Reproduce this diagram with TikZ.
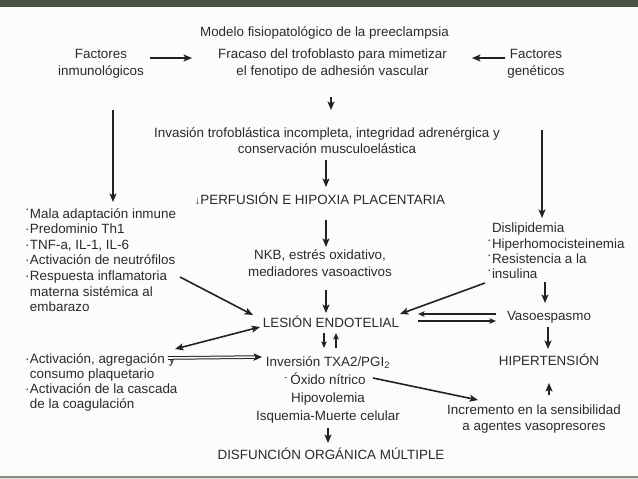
\documentclass[tikz,border=0pt]{standalone}
\usepackage{fontspec}
\usepackage{graphicx}
\setmainfont{Liberation Sans}
\usetikzlibrary{arrows.meta}
\definecolor{txt}{HTML}{2A2A2A}
\definecolor{arrc}{HTML}{222222}
\definecolor{band}{HTML}{4C5343}
\definecolor{paper}{HTML}{FCFCFA}
\definecolor{rule}{HTML}{8A8B80}
\begin{document}
\begin{tikzpicture}[x=1pt,y=-1pt,
  every node/.style={inner sep=0pt, outer sep=0pt, text=txt},
  one/.style={font=\fontsize{13.4}{16}\selectfont, text height=9.5pt, text depth=0pt},
  two/.style={font=\fontsize{13.4}{17}\selectfont, align=center},
  lst/.style={font=\fontsize{13.4}{15.6}\selectfont, align=left, anchor=west},
  arr/.style={draw=arrc, line width=1.6pt, -{Stealth[length=8.5pt,width=7pt,inset=2pt]}},
  dbl/.style={draw=arrc, line width=1.6pt, {Stealth[length=8.5pt,width=7pt,inset=2pt]}-{Stealth[length=8.5pt,width=7pt,inset=2pt]}},
  pair/.style={draw=arrc, line width=1.3pt, -{Stealth[length=6.5pt,width=5.5pt,inset=1.5pt]}},
  dline/.style={draw=arrc, double=paper, double distance=1.6pt, line width=1pt, -{Stealth[length=8.5pt,width=7.5pt,inset=2pt]}},
]
\useasboundingbox (0,0) rectangle (638,479);
\fill[paper] (0,0) rectangle (638,479);
\fill[band] (0,0) rectangle (638,6.5);
\fill[rule] (0,476.3) rectangle (638,478);
\fill[black!12] (0,478) rectangle (638,479);

% nodes
\node[one] (title) at (324.5,32) {Modelo fisiopatológico de la preeclampsia};
\node[two] (fi) at (101,63.5) {Factores\\inmunológicos};
\node[two] (fr) at (332.5,63.5) {Fracaso del trofoblasto para mimetizar\\el fenotipo de adhesión vascular};
\node[two] (fg) at (536,63.5) {Factores\\genéticos};
\node[font=\fontsize{13.4}{16}\selectfont, align=center] (inv) at (327,141) {Invasión trofoblástica incompleta, integridad adrenérgica y\\conservación musculoelástica};
\node[one] (perf) at (320,200) {{\fontsize{11}{11}\selectfont ↓}PERFUSIÓN E HIPOXIA PLACENTARIA};
\node[two] (nkb) at (320,263.5) {NKB, estrés oxidativo,\\mediadores vasoactivos};
\node[one] (les) at (331,323) {LESIÓN ENDOTELIAL};
\node[font=\fontsize{13.4}{18}\selectfont, align=center] (invb) at (328,389.5) {Inversión TXA2/PGI\textsubscript{2}\\\llap{\raisebox{4pt}{\scalebox{0.7}{-}}\hspace{3pt}}Óxido nítrico\\Hipovolemia\\Isquemia-Muerte celular};
\node[one] (disf) at (331,455) {DISFUNCIÓN ORGÁNICA MÚLTIPLE};
\node[lst] (ll) at (30,260) {\llap{\raisebox{5pt}{·}\hspace{0.5pt}}Mala adaptación inmune\\
\llap{·\hspace{0.5pt}}Predominio Th1\\
\llap{·\hspace{0.5pt}}TNF-a, IL-1, IL-6\\
\llap{·\hspace{0.5pt}}Activación de neutrófilos\\
\llap{·\hspace{0.5pt}}Respuesta inflamatoria\\
materna sistémica al\\
embarazo};
\node[lst, font=\fontsize{13.4}{15}\selectfont] (lb) at (30,382) {\llap{·\hspace{0.5pt}}Activación, agregación y\\
consumo plaquetario\\
\llap{·\hspace{0.5pt}}Activación de la cascada\\
de la coagulación};
\node[lst, font=\fontsize{13.4}{15.3}\selectfont] (rl) at (492,251) {Dislipidemia\\
\llap{\raisebox{4pt}{·}\hspace{0.5pt}}Hiperhomocisteinemia\\
\llap{\raisebox{4pt}{·}\hspace{0.5pt}}Resistencia a la\\
\llap{\raisebox{4pt}{·}\hspace{0.5pt}}insulina};
\node[one] (vaso) at (549,316) {Vasoespasmo};
\node[one] (hip) at (549,361) {HIPERTENSIÓN};
\node[two, font=\fontsize{13.4}{16}\selectfont] (inc) at (534,419) {Incremento en la sensibilidad\\a agentes vasopresores};

% connectors
\draw[arr] ([shift={(49,-5.5)}]fi.center) -- ([shift={(-140.5,-5.5)}]fr.center);
\draw[arr] ([shift={(-31,-5.5)}]fg.center) -- ([shift={(139.5,-5.5)}]fr.center);
\draw[arr] ([shift={(-1.5,33.5)}]fr.center) -- ([shift={(4,-31)}]inv.center);
\draw[arr] ([shift={(12,46.5)}]fi.center) -- ([shift={(83,-58)}]ll.west);
\draw[arr] ([shift={(6,66.5)}]fg.center) -- ([shift={(50,-33)}]rl.west);
\draw[arr] ([shift={(-1,19)}]inv.center) -- ([shift={(6,-13)}]perf.center);
\draw[arr] ([shift={(6,20)}]perf.center) -- ([shift={(6,-16.5)}]nkb.center);
\draw[arr] ([shift={(6,26.5)}]nkb.center) -- ([shift={(-5,-10)}]les.center);
\draw[arr] ([shift={(150,17)}]ll.west) -- ([shift={(-78,-8)}]les.center);
\draw[arr] ([shift={(-7,32)}]rl.west) -- ([shift={(69,-9)}]les.center);
\draw[arr] ([shift={(53,31)}]rl.west) -- ([shift={(-4,-13)}]vaso.center);
\draw[pair] ([shift={(-53,-2)}]vaso.center) -- ([shift={(87,-9)}]les.center);
\draw[pair] ([shift={(87,-2)}]les.center) -- ([shift={(-53,5)}]vaso.center);
\draw[pair] ([shift={(-7,10)}]les.center) -- ([shift={(-4,-41.5)}]invb.center);
\draw[pair] ([shift={(8,-41.5)}]invb.center) -- ([shift={(5,10)}]les.center);
\draw[dbl] ([shift={(145,-33)}]lb.west) -- ([shift={(-71,4)}]les.center);
\draw[dline] ([shift={(138,-24)}]lb.west) -- ([shift={(-66,-32.5)}]invb.center);
\draw[arr] ([shift={(-1,11)}]vaso.center) -- ([shift={(-1,-12)}]hip.center);
\draw[arr] ([shift={(15,-24)}]inc.center) -- ([shift={(0,22)}]hip.center);
\draw[arr] ([shift={(45,-11.5)}]invb.center) -- ([shift={(-56,-19)}]inc.center);
\draw[arr] ([shift={(0,38.5)}]invb.center) -- ([shift={(-3,-12)}]disf.center);
\end{tikzpicture}
\end{document}
